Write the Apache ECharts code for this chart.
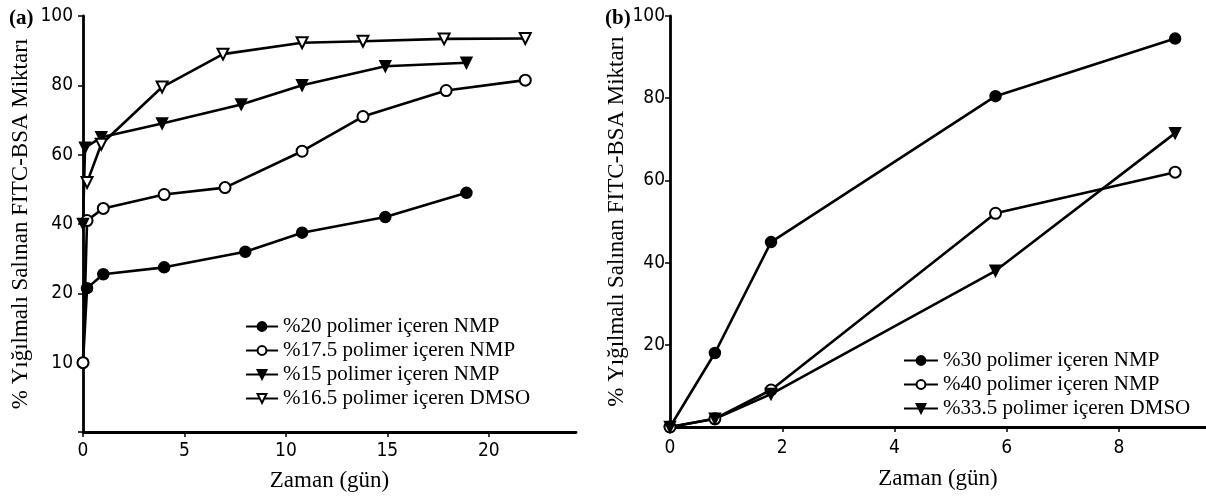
<!DOCTYPE html>
<html>
<head>
<meta charset="utf-8">
<script src="https://cdn.jsdelivr.net/npm/echarts@6/dist/echarts.min.js"></script>
<style>
  html, body { margin: 0; padding: 0; background: #fff; }
  #chart { width: 1206px; height: 500px; }
</style>
</head>
<body>
<div id="chart"></div>
<script>
// panel (a): time in days, cumulative release %
const daysA20 = [0, 0.2, 1, 4, 8, 10.8, 14.9, 18.9];
const relA20 = [10, 21.5, 25.5, 27.5, 32, 37.5, 42, 49];
const daysA175 = [0, 0.2, 1, 4, 7, 10.8, 13.8, 17.9, 21.8];
const relA175 = [10, 41, 44.5, 48.5, 50.5, 61, 71, 78.5, 81.5];
const daysA15 = [0, 0.1, 0.9, 3.9, 7.8, 10.8, 14.9, 18.9];
const relA15 = [40, 62, 65, 69, 74.5, 80, 85.5, 86.5];
const daysA165 = [0.2, 0.9, 3.9, 6.9, 10.8, 13.8, 17.8, 21.8];
const relA165 = [52, 63, 79.5, 89, 92.3, 92.7, 93.4, 93.5];

// panel (b)
const daysB = [0, 0.8, 1.8, 5.8, 9];
const relB30 = [0, 18, 45, 80.5, 94.5];
const relB40 = [0, 2, 9, 52, 62];
const relB335 = [0, 2, 8, 38, 71.5];

const namesA = ['%20 polimer içeren NMP', '%17.5 polimer içeren NMP', '%15 polimer içeren NMP', '%16.5 polimer içeren DMSO'];
const namesB = ['%30 polimer içeren NMP', '%40 polimer içeren NMP', '%33.5 polimer içeren DMSO'];

// panel (a) y axis is drawn with evenly spaced, unevenly valued ticks
const yTicksA = [0, 10, 20, 40, 60, 80, 100];
const yLabelsA = ['', '10', '20', '40', '60', '80', '100'];

// map a release value onto the evenly spaced tick index of panel (a)
const toTickPos = v => {
  for (let i = 1; i < yTicksA.length; i++) {
    if (v <= yTicksA[i]) {
      return (i - 1) + (v - yTicksA[i - 1]) / (yTicksA[i] - yTicksA[i - 1]);
    }
  }
  return yTicksA.length - 1;
};

const pairsA = (xs, ys) => xs.map((x, i) => [x, toTickPos(ys[i])]);
const pairsB = (xs, ys) => xs.map((x, i) => [x, ys[i]]);

const serif = 'Liberation Serif';
const narrow = 'Liberation Sans Narrow, DejaVu Sans Condensed, sans-serif';

const axisBase = {
  axisLine: { show: true, lineStyle: { color: '#000', width: 2.8 } },
  axisTick: { show: true, length: 5, lineStyle: { color: '#000', width: 1.5 } },
  splitLine: { show: false },
  axisLabel: { color: '#000', fontFamily: narrow, fontSize: 19 },
  nameTextStyle: { color: '#000', fontFamily: serif, fontSize: 23 }
};

const lineBase = {
  type: 'line',
  lineStyle: { color: '#000', width: 2.6 },
  itemStyle: { color: '#000', borderColor: '#000', borderWidth: 1.5 },
  symbolSize: 11,
  z: 3
};
const hollow = { color: '#fff', borderColor: '#000', borderWidth: 2 };

const chart = echarts.init(document.getElementById('chart'));

chart.setOption({
  animation: false,
  backgroundColor: '#fff',
  title: [
    { text: '(a)', left: 4, top: 3, textStyle: { fontFamily: serif, fontSize: 21, fontWeight: 'bold', color: '#000' } },
    { text: '(b)', left: 600, top: 3, textStyle: { fontFamily: serif, fontSize: 21, fontWeight: 'bold', color: '#000' } }
  ],
  grid: [
    { left: 83, top: 16, width: 493, height: 416, containLabel: false },
    { left: 670, top: 16, right: -6, height: 411, containLabel: false }
  ],
  xAxis: [
    Object.assign({}, axisBase, {
      type: 'value', gridIndex: 0, min: 0, max: 24.3, interval: 5,
      name: 'Zaman (gün)', nameLocation: 'middle', nameGap: 37,
      axisLabel: Object.assign({}, axisBase.axisLabel, { showMaxLabel: false, margin: 10 })
    }),
    Object.assign({}, axisBase, {
      type: 'value', gridIndex: 1, min: 0, max: 9.55, interval: 2,
      name: 'Zaman (gün)', nameLocation: 'middle', nameGap: 40,
      axisLabel: Object.assign({}, axisBase.axisLabel, { showMaxLabel: false, margin: 12 })
    })
  ],
  yAxis: [
    Object.assign({}, axisBase, {
      type: 'value', gridIndex: 0, min: 0, max: yTicksA.length - 1, interval: 1,
      name: '% Yığılmalı Salınan FITC-BSA Miktarı', nameLocation: 'middle', nameGap: 51,
      axisLabel: Object.assign({}, axisBase.axisLabel, { margin: 10, formatter: v => yLabelsA[Math.round(v)] })
    }),
    Object.assign({}, axisBase, {
      type: 'value', gridIndex: 1, min: 0, max: 100, interval: 20,
      name: '% Yığılmalı Salınan FITC-BSA Miktarı', nameLocation: 'middle', nameGap: 38,
      axisLabel: Object.assign({}, axisBase.axisLabel, { margin: 5, showMinLabel: false })
    })
  ],
  legend: [
    {
      data: namesA, orient: 'vertical', left: 240, top: 311, itemGap: 3,
      itemWidth: 32, itemHeight: 11,
      textStyle: { fontFamily: serif, fontSize: 21, color: '#000' }
    },
    {
      data: namesB, orient: 'vertical', left: 898, top: 345, itemGap: 3,
      itemWidth: 34, itemHeight: 11,
      textStyle: { fontFamily: serif, fontSize: 21, color: '#000' }
    }
  ],
  series: [
    Object.assign({}, lineBase, { name: namesA[0], xAxisIndex: 0, yAxisIndex: 0, symbol: 'circle', data: pairsA(daysA20, relA20) }),
    Object.assign({}, lineBase, { name: namesA[1], xAxisIndex: 0, yAxisIndex: 0, symbol: 'circle',
      itemStyle: hollow, data: pairsA(daysA175, relA175) }),
    Object.assign({}, lineBase, { name: namesA[2], xAxisIndex: 0, yAxisIndex: 0, symbol: 'triangle', symbolRotate: 180, data: pairsA(daysA15, relA15) }),
    Object.assign({}, lineBase, { name: namesA[3], xAxisIndex: 0, yAxisIndex: 0, symbol: 'triangle', symbolRotate: 180,
      itemStyle: hollow, data: pairsA(daysA165, relA165) }),

    Object.assign({}, lineBase, { name: namesB[0], xAxisIndex: 1, yAxisIndex: 1, symbol: 'circle', data: pairsB(daysB, relB30) }),
    Object.assign({}, lineBase, { name: namesB[1], xAxisIndex: 1, yAxisIndex: 1, symbol: 'circle',
      itemStyle: hollow, data: pairsB(daysB, relB40) }),
    Object.assign({}, lineBase, { name: namesB[2], xAxisIndex: 1, yAxisIndex: 1, symbol: 'triangle', symbolRotate: 180, data: pairsB(daysB, relB335) })
  ]
});
</script>
</body>
</html>
